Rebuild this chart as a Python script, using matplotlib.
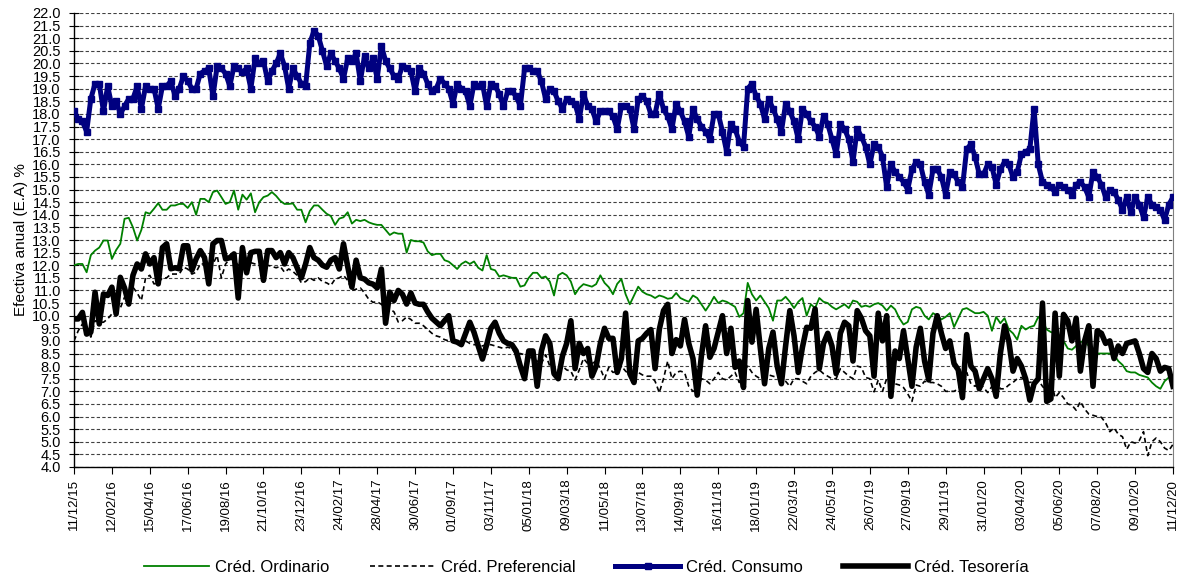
import matplotlib
matplotlib.use("Agg")
import matplotlib.pyplot as plt
import pandas as pd

plt.rcParams['font.family'] = ['Liberation Sans', 'DejaVu Sans']

# Weekly data, 11/12/15 .. 11/12/20 (262 weeks)
dates = pd.date_range('2015-12-11', periods=262, freq='7D')

ordinario = [
    12.0, 12.05, 12.05, 11.72, 12.4, 12.58, 12.7, 12.98, 12.98,
    12.25, 12.6, 12.85, 13.84, 13.88, 13.5, 12.98, 13.4, 14.1,
    14.04, 14.24, 14.46, 14.2, 14.2, 14.37, 14.37, 14.43, 14.43,
    14.27, 14.5, 14.0, 14.63, 14.63, 14.5, 14.9, 14.96, 14.7,
    14.43, 14.5, 14.96, 14.2, 14.8, 14.6, 14.85, 14.1, 14.5,
    14.7, 14.76, 14.9, 14.75, 14.55, 14.43, 14.43, 14.45, 14.2,
    14.2, 13.7, 14.15, 14.37, 14.37, 14.2, 14.04, 13.95, 13.6,
    13.85, 13.9, 14.1, 13.65, 13.8, 13.75, 13.8, 13.7, 13.64,
    13.6, 13.6, 13.4, 13.2, 13.3, 13.25, 13.25, 12.5, 13.0,
    12.95, 12.95, 12.9, 12.55, 12.4, 12.45, 12.45, 12.2, 12.14,
    12.0, 11.85, 12.05, 12.15, 12.05, 12.15, 11.9, 11.79, 12.4,
    11.85, 11.8, 11.55, 11.6, 11.55, 11.5, 11.5, 11.15, 11.2,
    11.5, 11.7, 11.7, 11.5, 11.55, 11.35, 10.8, 11.6, 11.7,
    11.6, 11.35, 10.85, 11.1, 11.25, 11.2, 11.15, 11.25, 11.6,
    11.3, 11.13, 10.85, 11.26, 11.45, 10.85, 10.45, 10.8, 11.15,
    10.95, 10.85, 10.8, 10.7, 10.8, 10.75, 10.67, 10.7, 10.9,
    10.7, 10.62, 10.55, 10.8, 10.7, 10.45, 10.2, 10.45, 10.75,
    10.5, 10.6, 10.55, 10.45, 10.35, 9.95, 10.1, 11.3, 10.85,
    10.6, 10.8, 10.55, 10.3, 9.8, 10.6, 10.6, 10.75, 10.55,
    10.3, 10.55, 10.7, 10.0, 10.45, 10.3, 10.7, 10.55, 10.5,
    10.35, 10.25, 10.35, 10.45, 10.3, 10.6, 10.55, 10.35, 10.4,
    10.35, 10.45, 10.5, 10.4, 10.2, 10.4, 10.25, 9.9, 9.65,
    9.75, 10.25, 10.35, 10.3, 10.0, 9.85, 10.1, 10.0, 9.85,
    9.95, 10.1, 9.55, 9.9, 10.25, 10.3, 10.2, 10.1, 10.1,
    10.15, 10.0, 9.4, 9.95, 9.7, 9.9, 9.45, 9.3, 9.05,
    9.6, 9.45, 9.55, 9.6, 9.95, 9.8, 9.45, 9.35, 9.3,
    9.15, 9.0, 8.7, 8.65, 8.8, 8.95, 9.0, 8.8, 8.55,
    8.5, 8.5, 8.5, 8.5, 8.45, 8.2, 8.05, 7.8, 7.75,
    7.75, 7.65, 7.6, 7.55, 7.35, 7.2, 7.1, 7.4, 7.55, 7.6,
]

preferencial = [
    9.0, 9.4, 9.67, 9.5, 9.15, 9.8, 9.74, 9.74, 9.87,
    10.07, 10.2, 10.3, 10.73, 10.8, 11.13, 10.9, 10.6, 11.5,
    11.6, 11.26, 11.3, 11.5, 11.5, 11.65, 11.65, 11.65, 11.92,
    11.85, 11.65, 11.72, 12.05, 12.05, 11.9, 12.05, 12.38, 11.5,
    12.05, 12.25, 12.2, 12.0, 12.05, 12.0, 12.1, 12.05, 12.0,
    12.1, 12.0, 11.95, 11.9, 11.95, 11.72, 11.85, 11.75, 11.6,
    11.3, 11.35, 11.5, 11.4, 11.5, 11.35, 11.3, 11.2, 11.45,
    11.5, 11.6, 11.4, 11.0, 11.05, 11.1, 10.9, 10.65, 10.53,
    10.55, 10.45, 10.3, 10.27, 10.15, 9.75, 9.8, 9.95, 9.85,
    9.7, 9.7, 9.6, 9.45, 9.3, 9.2, 9.15, 9.05, 9.0,
    8.95, 8.9, 8.85, 9.0, 8.9, 8.85, 8.85, 8.8, 8.85,
    8.85, 8.8, 8.75, 8.7, 8.75, 8.7, 8.45, 8.5, 8.45,
    8.35, 8.3, 8.2, 8.1, 8.45, 8.0, 7.85, 7.8, 8.0,
    7.85, 7.8, 7.45, 7.85, 8.3, 8.1, 8.1, 8.2, 7.9,
    7.5, 7.95, 7.75, 7.8, 8.0, 7.8, 7.65, 7.95, 7.75,
    7.65, 7.6, 7.6, 7.4, 6.95, 7.5, 8.2, 7.5, 7.75,
    7.8, 7.75, 7.2, 7.0, 7.05, 7.5, 7.45, 7.3, 7.5,
    7.75, 7.5, 7.45, 7.6, 7.75, 7.35, 7.8, 8.0, 7.75,
    7.6, 7.5, 7.6, 7.65, 7.6, 7.55, 7.5, 7.4, 7.2,
    7.5, 7.5, 7.4, 7.3, 7.6, 7.75, 7.85, 7.7, 7.6,
    7.5, 7.5, 7.9, 7.75, 7.6, 7.5, 8.0, 7.95, 7.55,
    7.5, 6.98, 7.45, 7.0, 7.5, 7.5, 7.3, 7.25, 7.15,
    6.9, 6.6, 7.25, 7.2, 7.4, 7.35, 7.35, 7.3, 7.2,
    7.0, 7.0, 7.0, 7.1, 7.3, 7.75, 7.3, 7.2, 7.35,
    7.15, 6.95, 7.2, 7.4, 7.1, 7.1, 7.25, 7.35, 7.5,
    7.55, 7.4, 7.35, 7.4, 7.45, 7.2, 7.0, 7.45, 6.75,
    6.95, 6.75, 6.5, 6.45, 6.25, 6.6, 6.3, 6.1, 6.05,
    6.0, 5.97, 5.75, 5.4, 5.55, 5.3, 5.2, 4.7, 5.0,
    4.95, 5.05, 5.4, 4.45, 5.0, 5.15, 5.0, 4.75, 4.65, 4.9,
]

consumo = [
    18.1, 17.8, 17.7, 17.3, 18.6, 19.2, 19.2, 18.1, 19.1,
    18.3, 18.5, 18.0, 18.3, 18.6, 18.6, 19.1, 18.2, 19.1,
    19.0, 19.0, 18.2, 19.1, 19.1, 19.3, 18.7, 19.0, 19.5,
    19.3, 19.0, 19.0, 19.6, 19.7, 19.8, 18.7, 19.9, 19.8,
    19.6, 19.1, 19.9, 19.8, 19.65, 19.8, 19.0, 20.2, 20.0,
    20.1, 19.3, 19.7, 20.0, 20.4, 19.9, 19.0, 19.8, 19.5,
    19.2, 19.1, 20.8, 21.3, 21.1, 20.5, 19.9, 20.4, 20.1,
    19.8, 19.4, 20.2, 20.1, 20.4, 19.3, 20.3, 19.8, 20.2,
    19.4, 20.7, 20.1, 19.8, 19.5, 19.4, 19.9, 19.8, 19.7,
    18.9, 19.8, 19.6, 19.2, 18.9, 19.0, 19.4, 19.2, 19.0,
    18.4, 19.2, 19.0, 18.9, 18.3, 19.2, 19.1, 19.2, 18.3,
    19.2, 19.1, 18.8, 18.3, 18.9, 18.9, 18.7, 18.3, 19.8,
    19.8, 19.7, 19.7, 19.3, 18.6, 19.0, 18.9, 18.5, 18.2,
    18.6, 18.5, 18.4, 17.8, 18.8, 18.3, 18.2, 17.7, 18.1,
    18.1, 18.1, 17.9, 17.4, 18.3, 18.3, 18.2, 17.4, 18.6,
    18.7, 18.5, 18.0, 18.0, 18.8, 18.2, 17.9, 17.4, 18.4,
    18.1, 17.7, 17.1, 18.2, 17.8, 17.5, 17.3, 17.0, 18.0,
    18.0, 17.3, 16.5, 17.6, 17.4, 16.9, 16.7, 19.0, 19.2,
    18.7, 18.4, 17.8, 18.6, 18.2, 17.8, 17.3, 18.4, 18.1,
    17.7, 17.0, 18.2, 18.0, 17.7, 17.5, 17.1, 17.9, 17.6,
    17.0, 16.4, 17.6, 17.4, 17.0, 16.1, 17.4, 17.1, 16.7,
    16.0, 16.8, 16.7, 16.3, 15.1, 16.0, 15.7, 15.5, 15.3,
    15.0, 15.8, 16.1, 16.0, 15.3, 14.8, 15.8, 15.8, 15.5,
    14.8, 15.7, 15.6, 15.3, 15.1, 16.6, 16.8, 16.3, 15.6,
    15.6, 16.0, 15.9, 15.2, 15.8, 16.1, 16.0, 15.5, 15.7,
    16.4, 16.5, 16.6, 18.2, 16.0, 15.3, 15.2, 15.1, 14.9,
    15.2, 15.1, 15.0, 14.8, 15.2, 15.3, 15.1, 14.7, 15.7,
    15.5, 15.2, 14.7, 15.0, 14.9, 14.6, 14.2, 14.7, 14.1,
    14.7, 14.4, 13.9, 14.7, 14.4, 14.3, 14.2, 13.8, 14.4, 14.7,
]

tesoreria = [
    9.87, 9.87, 10.13, 9.27, 9.35, 10.93, 9.67, 10.86, 10.8,
    11.13, 10.07, 11.52, 11.1, 10.46, 11.6, 12.05, 11.85, 12.45,
    12.05, 12.3, 11.26, 12.7, 12.85, 11.86, 11.9, 11.86, 12.77,
    12.77, 11.8, 12.25, 12.58, 12.3, 11.26, 12.85, 12.98, 12.98,
    12.25, 12.3, 12.45, 10.7, 12.7, 11.7, 12.5, 12.55, 12.55,
    11.4, 12.58, 12.58, 12.3, 12.5, 12.05, 12.5, 12.3, 11.9,
    11.5, 12.05, 12.7, 12.3, 12.2, 12.0, 11.92, 12.2, 12.3,
    11.85, 12.85, 11.95, 11.13, 12.2, 11.5, 11.45, 11.3, 11.25,
    11.1, 11.85, 9.7, 10.93, 10.6, 11.0, 10.85, 10.46, 10.9,
    10.5, 10.45, 10.45, 10.15, 9.9, 9.75, 9.6, 9.8, 10.0,
    9.0, 8.95, 8.85, 9.3, 9.74, 9.34, 8.8, 8.28, 8.85,
    9.5, 9.74, 9.3, 9.0, 8.9, 8.85, 8.6, 8.0, 7.5,
    8.6, 8.6, 7.2, 8.6, 9.2, 8.9, 7.7, 7.5, 8.4,
    8.9, 9.8, 7.9, 8.9, 8.5, 8.7, 7.6, 8.0, 8.9,
    9.5, 9.1, 9.1, 7.75, 8.3, 10.1, 7.7, 7.35, 9.0,
    9.1, 9.3, 9.45, 7.9, 9.45, 10.2, 10.45, 8.5, 9.05,
    8.8, 9.85, 8.9, 8.3, 6.85, 8.4, 9.6, 8.35, 8.7,
    9.35, 10.0, 8.5, 9.5, 7.95, 8.2, 7.15, 10.6, 8.95,
    10.25, 8.7, 7.3, 8.7, 9.35, 8.0, 7.3, 8.8, 10.2,
    9.2, 7.75, 8.75, 9.54, 9.5, 10.27, 7.9, 8.9, 9.3,
    8.8, 7.7, 9.3, 9.74, 9.6, 8.2, 10.2, 9.9, 9.4,
    9.2, 7.6, 10.1, 9.0, 10.0, 6.8, 8.6, 8.3, 9.4,
    8.3, 7.2, 8.75, 9.5, 8.2, 7.45, 9.3, 10.0, 9.3,
    8.7, 9.0, 8.1, 7.85, 6.75, 9.25, 8.0, 7.8, 7.1,
    7.5, 7.9, 7.5, 6.8, 8.5, 9.6, 9.0, 7.8, 8.3,
    8.0, 7.5, 6.65, 7.3, 7.5, 10.5, 6.6, 6.7, 10.1,
    7.6, 10.05, 9.8, 9.0, 9.9, 7.8, 9.0, 9.6, 7.2,
    9.4, 9.3, 8.9, 9.0, 8.3, 8.8, 8.5, 8.9, 8.95,
    9.0, 8.5, 7.9, 7.75, 8.5, 8.3, 7.8, 7.95, 7.9, 7.2,
]

labels = ['Créd. Ordinario', 'Créd. Preferencial', 'Créd. Consumo', 'Créd. Tesorería']

fig = plt.figure(figsize=(11.8, 5.78), dpi=100)
ax = fig.add_axes([74 / 1180, 1 - 467 / 578, (1173 - 74) / 1180, (467 - 13) / 578])

ax.plot(dates, ordinario, color='#008000', lw=1.3, label=labels[0], zorder=3)
ax.plot(dates, preferencial, color='black', lw=1.2, ls=(0, (3, 2)), label=labels[1], zorder=3)
ax.plot(dates, consumo, color='#000080', lw=3.6, marker='s', ms=3.8, label=labels[2], zorder=4)
ax.plot(dates, tesoreria, color='black', lw=4.0, label=labels[3], zorder=5)

ax.set_ylim(4.0, 22.0)
ax.set_yticks([4 + 0.5 * i for i in range(37)])
ax.set_yticklabels([f'{4 + 0.5 * i:.1f}' for i in range(37)])
ax.yaxis.grid(True, color='#404040', lw=0.8, ls=(0, (3, 2)))
ax.set_axisbelow(True)

ticks = dates[::9]
ax.set_xticks(ticks)
ax.set_xticklabels([d.strftime('%d/%m/%y') for d in ticks], rotation=90)
ax.set_xlim(dates[0], dates[-1])

ax.tick_params(axis='y', labelsize=10.5, direction='inout', length=7, width=0.8, pad=6)
ax.tick_params(axis='x', labelsize=9.5, direction='out', length=5, width=0.8)
ax.set_ylabel('Efectiva anual (E.A) %', fontsize=11, labelpad=3)

for s in ['left', 'bottom']:
    ax.spines[s].set_color('black')
    ax.spines[s].set_linewidth(1)
ax.spines['top'].set_visible(False)
ax.spines['right'].set_color('#808080')
ax.spines['right'].set_linewidth(0.8)

fig.legend(loc='center', bbox_to_anchor=(0.497, 1 - 567 / 578), ncol=4, frameon=False,
           fontsize=12, handlelength=3.9, columnspacing=2.4, handletextpad=0.35)

plt.savefig('out.png', dpi=100)
